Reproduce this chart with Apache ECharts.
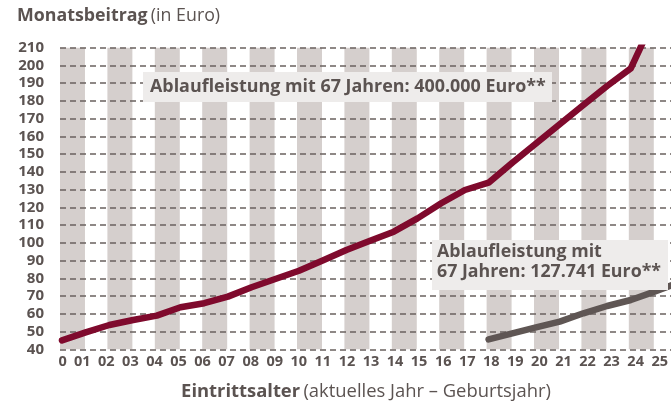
<!DOCTYPE html>
<html><head><meta charset="utf-8">
<script src="https://cdn.jsdelivr.net/npm/echarts@6/dist/echarts.min.js"></script>
<style>html,body{margin:0;padding:0;background:#fff}#c{width:671px;height:404px}</style>
</head><body><div id="c"></div>
<script>
// ---- data ----
const ageLabels = ['0','01','02','03','04','05','06','07','08','09','10','11','12','13','14','15','16','17','18','19','20','21','22','23','24','25'];
const ages = [0,1,2,3,4,5,6,7,8,9,10,11,12,13,14,15,16,17,18,19,20,21,22,23,24,25,26];
const premium400k = [45,49.5,53.7,56.5,59,63.7,66,69.7,75,79.6,84.3,90,96,101.2,106.3,113.8,122.3,129.8,133.9,145.2,156,166.9,177.7,188.4,198.4,227];
const premium127k = [null,null,null,null,null,null,null,null,null,null,null,null,null,null,null,null,null,null,45.6,49,52.4,55.6,60.3,64.4,67.8,72.5,77.5];
const stripeAges = [0,2,4,6,8,10,12,14,16,18,20,22,24];
const yMin = 40, yMax = 210, yStep = 10;
const label400k = 'Ablaufleistung mit 67 Jahren: 400.000 Euro**';
const label127k = ['Ablaufleistung mit', '67 Jahren: 127.741 Euro**'];

// ---- styles ----
const FONT = '"Open Sans"';
const TXT = '#5b5351';
const RED = '#7f0a2d';
const GREY = '#5f5654';
const STRIPE = '#d5cfcd';
const BOX = '#eeeceb';

const toPairs = arr => arr.map((v, i) => [ages[i], v]).filter(p => p[1] != null);

const chart = echarts.init(document.getElementById('c'), null, {renderer: 'canvas'});
chart.setOption({
  animation: false,
  backgroundColor: '#fff',
  grid: [
    {left: 60, right: 0, top: 47.7, bottom: 54.7},
    {left: 58.2, right: 6.8, top: 47.7, bottom: 54.7}
  ],
  xAxis: [
    {type: 'value', gridIndex: 0, min: -0.084, max: 25.696, show: false},
    {type: 'category', gridIndex: 1, data: ageLabels, boundaryGap: false,
     axisLine: {show: false}, axisTick: {show: false}, splitLine: {show: false},
     axisLabel: {interval: 0, margin: 5, color: TXT, fontFamily: FONT, fontWeight: 'bold', fontSize: 14.5,
       formatter: (v, i) => i === 0 ? '{z|' + v + '}' : v,
       rich: {z: {padding: [0, 0, 0, 9], color: TXT, fontFamily: FONT, fontWeight: 'bold', fontSize: 14.5}}}}
  ],
  yAxis: [
    {type: 'value', gridIndex: 0, min: yMin, max: yMax, interval: yStep, z: 2,
     axisLine: {show: false}, axisTick: {show: false},
     axisLabel: {margin: 16, color: TXT, fontFamily: FONT, fontWeight: 'bold', fontSize: 15},
     splitLine: {show: true, lineStyle: {color: '#6a625f', width: 1.5, type: [6, 4]}}},
    {type: 'value', gridIndex: 1, min: yMin, max: yMax, show: false}
  ],
  series: [
    {type: 'line', xAxisIndex: 0, yAxisIndex: 0, data: [], z: 1, silent: true,
     markArea: {silent: true, itemStyle: {color: STRIPE, opacity: 1}, label: {show: false},
       data: stripeAges.map(a => [{xAxis: a - 0.084}, {xAxis: a + 0.97}])}},
    {type: 'line', xAxisIndex: 0, yAxisIndex: 0, z: 3, data: toPairs(premium400k), showSymbol: false,
     lineStyle: {color: RED, width: 6.5, cap: 'round', join: 'round'}},
    {type: 'line', xAxisIndex: 0, yAxisIndex: 0, z: 3, data: toPairs(premium127k), showSymbol: false,
     lineStyle: {color: GREY, width: 6.5, cap: 'round', join: 'round'}}
  ],
  graphic: [
    {type: 'text', left: 17, top: 7, z: 10, style: {
      text: '{b|Monatsbeitrag} {n|(in Euro)}',
      rich: {b: {fontFamily: FONT, fontWeight: 'bold', fontSize: 17.8, fill: TXT},
             n: {fontFamily: FONT, fontWeight: 'normal', fontSize: 17.8, fill: TXT}}}},
    {type: 'text', x: 366, y: 392, z: 10, style: {
      text: '{b|Eintrittsalter} {n|(aktuelles Jahr – Geburtsjahr)}', align: 'center', verticalAlign: 'middle',
      rich: {b: {fontFamily: FONT, fontWeight: 'bold', fontSize: 18.4, fill: TXT},
             n: {fontFamily: FONT, fontWeight: 'normal', fontSize: 18.4, fill: TXT}}}},
    {type: 'rect', z: 10, shape: {x: 143, y: 72, width: 409, height: 30}, style: {fill: BOX}},
    {type: 'text', z: 11, x: 150, y: 87, style: {text: label400k, fill: TXT, font: 'bold 17.9px ' + FONT, verticalAlign: 'middle'}},
    {type: 'rect', z: 10, shape: {x: 432, y: 240, width: 236, height: 50}, style: {fill: BOX}},
    {type: 'text', z: 11, x: 437, y: 252, style: {text: label127k[0], fill: TXT, font: 'bold 17.8px ' + FONT, verticalAlign: 'middle'}},
    {type: 'text', z: 11, x: 437, y: 272, style: {text: label127k[1], fill: TXT, font: 'bold 17.8px ' + FONT, verticalAlign: 'middle'}}
  ]
});
</script></body></html>
